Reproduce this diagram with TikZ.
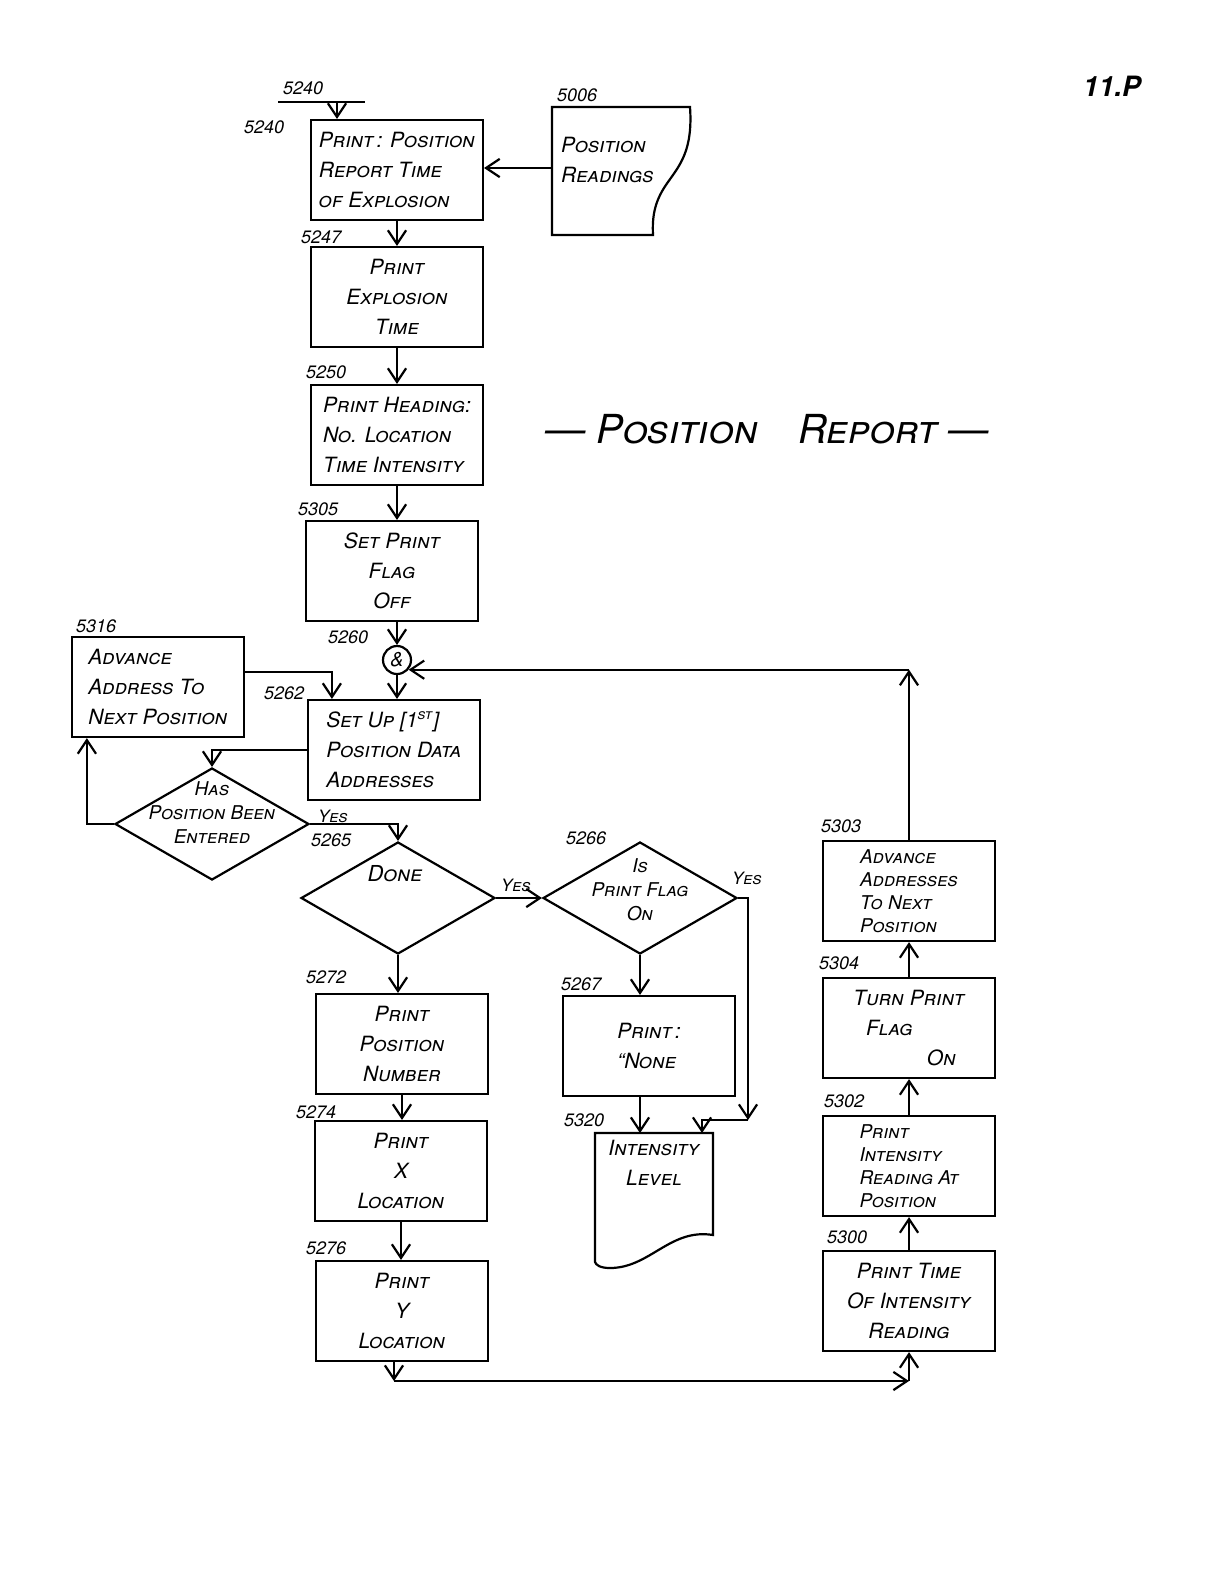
\documentclass[tikz,border=0pt]{standalone}
\usepackage{fontspec}
\setmainfont{TeX Gyre Heros}
\usetikzlibrary{arrows.meta,calc,shapes.geometric}

\begin{document}
\begin{tikzpicture}[
  x=0.5pt, y=-0.5pt,
  line width=1.1pt,
  font=\fontsize{10.5}{15}\selectfont\itshape\scshape,
  box/.style   ={draw, minimum width=86pt, minimum height=50pt, inner sep=2pt, align=center},
  boxl/.style  ={box, align=left},
  tight/.style ={font=\fontsize{9.5}{11.5}\selectfont\itshape\scshape},
  dec/.style   ={draw, diamond, minimum width=97pt, minimum height=56pt, inner sep=0pt},
  dtext/.style ={align=center, inner sep=0pt, font=\fontsize{9.5}{12}\selectfont\itshape\scshape},
  docu/.style  ={align=left, inner sep=3pt},
  con/.style   ={draw, circle, minimum size=14pt, inner sep=0pt},
  ar/.style    ={-{Straight Barb[length=2.4mm, width=3.2mm]}},
  num/.style   ={font=\fontsize{9}{9}\selectfont\itshape, inner sep=0pt, anchor=west},
  yes/.style   ={font=\fontsize{8.5}{8.5}\selectfont\itshape\scshape, inner sep=0pt, anchor=west},
]
\useasboundingbox (0,0) rectangle (1224,1584);

% --- main column ---
\node[boxl] (b5240) at (397,170) {Print\kern1.5pt: Position\\Report Time\\of Explosion};
\node[box]  (b5247) at (397,297) {Print\\Explosion\\Time};
\node[boxl] (b5250) at (397,435) {Print Heading:\\No. Location\\Time Intensity};
\node[box]  (b5305) at (392,571) {Set Print\\Flag\\Off};
\node[con, font=\fontsize{10}{10}\selectfont\itshape] (c5260) at (397,660) {\&};
\node[boxl] (b5262) at (394,750) {Set Up [1\textsuperscript{st}]\\Position Data\\Addresses};
\node[boxl] (b5316) at (158,687) {Advance\\Address To\\Next Position};

% --- decisions ---
\node[dec] (d5264) at (212,824) {};
\node[dtext] (t5264) at (212,813) {Has\\Position Been\\Entered};
\node[dec] (d5265) at (398,898) {};
\node[dtext, font=\fontsize{11}{12}\selectfont\itshape\scshape] (t5265) at (395,874) {Done};
\node[dec] (d5266) at (640,898) {};
\node[dtext] (t5266) at (640,890) {Is\\Print Flag\\On};

% --- lower column ---
\node[box]  (b5272) at (402,1044) {Print\\Position\\Number};
\node[box]  (b5274) at (401,1171) {Print\\X\\Location};
\node[box]  (b5276) at (402,1311) {Print\\Y\\Location};
\node[boxl] (b5267) at (649,1046) {Print\kern1.5pt:\\“None};
\node[docu, align=center, anchor=north] (lvl) at (654,1133) {Intensity\\Level};
\draw (595,1133) -- (713,1133) -- (713,1235)
  .. controls (670,1228) and (650,1268) .. (610,1268)
  .. controls (600,1268) and (596,1265) .. (595,1262) -- cycle;

% --- right column ---
\node[boxl, tight] (b5303) at (909,891) {Advance\\Addresses\\To Next\\Position};
\node[boxl] (b5304) at (909,1028) {Turn Print\\\hspace*{0.6em}Flag\\\hspace*{3.5em}On};
\node[boxl, tight] (b5302) at (909,1166) {Print\\Intensity\\Reading At\\Position};
\node[box]  (b5300) at (909,1301) {Print Time\\Of Intensity\\Reading};

% --- input data ---
\node[docu, anchor=west] (readings) at (554,160) {Position\\Readings};
\draw (552,107) -- (690,107) .. controls (693,150) and (680,165) .. (668,182)
  .. controls (655,200) and (652,215) .. (653,235) -- (552,235) -- cycle;
\coordinate (r5006) at (552,168);

% --- titles ---
\node[font=\fontsize{20}{20}\selectfont\itshape\scshape] (title) at (767,429) {— Position\quad Report —};
\node[font=\fontsize{14}{14}\selectfont\bfseries\itshape] (page) at (1112,86) {11.P};

% --- reference numbers ---
\node[num] (n5240a) at (282,88)  {5240};
\node[num] (n5240b) at (243,127) {5240};
\node[num] (n5006)  at (556,95)  {5006};
\node[num] (n5247)  at (300,237) {5247};
\node[num] (n5250)  at (305,372) {5250};
\node[num] (n5305)  at (297,509) {5305};
\node[num] (n5260)  at (327,637) {5260};
\node[num] (n5316)  at (75,626)  {5316};
\node[num] (n5262)  at (263,693) {5262};
\node[num] (n5265)  at (310,840) {5265};
\node[num] (n5266)  at (565,838) {5266};
\node[num] (n5272)  at (305,977) {5272};
\node[num] (n5267)  at (560,984) {5267};
\node[num] (n5320)  at (563,1120) {5320};
\node[num] (n5274)  at (295,1112) {5274};
\node[num] (n5276)  at (305,1248) {5276};
\node[num] (n5303)  at (820,826) {5303};
\node[num] (n5304)  at (818,963) {5304};
\node[num] (n5302)  at (823,1101) {5302};
\node[num] (n5300)  at (826,1237) {5300};
\node[yes] (y5264)  at (317,816) {Yes};
\node[yes] (y5265)  at (500,885) {Yes};
\node[yes] (y5266)  at (731,878) {Yes};

% --- entry ---
\coordinate (bar1) at (278,102);
\coordinate (bar2) at (365,102);
\coordinate (entry) at (337,102);
\draw (bar1) -- (bar2);
\draw[ar] (entry) -- (entry |- b5240.north);

% --- edges ---
\draw[ar] (r5006) -- (r5006 -| b5240.east);
\draw[ar] (b5240.south) -- (b5247.north);
\draw[ar] (b5247.south) -- (b5250.north);
\draw[ar] (b5250.south) -- (b5250.south |- b5305.north);
\draw[ar] (c5260.north |- b5305.south) -- (c5260.north);
\draw[ar] (c5260.south) -- (c5260.south |- b5262.north);
\draw[ar] (b5316.10) -| ($(b5262.north west)+(25,0)$);
\draw[ar] (b5262.west) -| (d5264.north);
\draw[ar] (d5264.west) -| ($(b5316.south west)+(16,0)$);
\draw[ar] (d5264.east) -| (d5265.north);
\draw[ar] (d5265.east) -- (d5266.west);
\draw[ar] (d5265.south) -- (d5265.south |- b5272.north);
\draw[ar] (b5272.south) -- (b5272.south |- b5274.north);
\draw[ar] (b5274.south) -- (b5274.south |- b5276.north);
\draw[ar] (d5266.south) -- (d5266.south |- b5267.north);
\draw[ar] (d5266.south |- b5267.south) -- (d5266.south |- lvl.north);
\coordinate (k5320a) at (748,1120);
\coordinate (k5320b) at (702,1133);
\draw[ar] (d5266.east) -| (k5320a);
\draw[ar] (k5320a) -| (k5320b);

% --- return loop ---
\coordinate (k5276) at (394,1381);
\coordinate (k5300) at (909,1381);
\draw[ar] (b5276.south -| k5276) -- (k5276);
\draw[ar] (k5276) -- (k5300);
\draw[ar] (k5300) -- (b5300.south);
\draw[ar] (b5300.north) -- (b5302.south);
\draw[ar] (b5302.north) -- (b5304.south);
\draw[ar] (b5304.north) -- (b5303.south);
\coordinate (k5260) at (c5260.-40 -| b5303.north);
\draw[ar] (b5303.north) -- (k5260);
\draw[ar] (k5260) -- (c5260.-40);
\end{tikzpicture}
\end{document}
